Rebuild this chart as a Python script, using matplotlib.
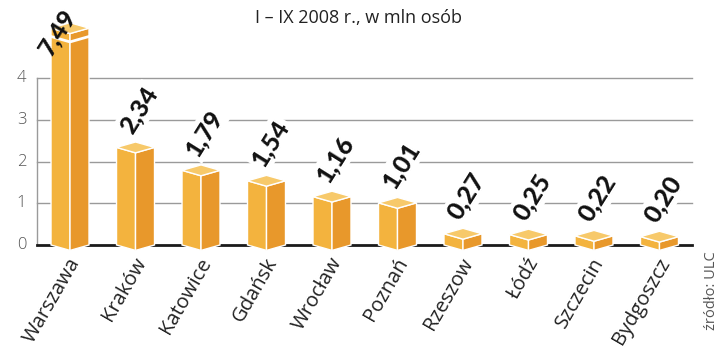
import numpy as np
import matplotlib.pyplot as plt
from matplotlib.patches import Polygon

plt.rcParams['font.family'] = ['Open Sans', 'DejaVu Sans']

cities = ['Warszawa', 'Kraków', 'Katowice', 'Gdańsk', 'Wrocław',
          'Poznań', 'Rzeszow', 'Łódź', 'Szczecin', 'Bydgoszcz']
values = [7.49, 2.34, 1.79, 1.54, 1.16, 1.01, 0.27, 0.25, 0.22, 0.20]
labels = ['7,49', '2,34', '1,79', '1,54', '1,16', '1,01', '0,27', '0,25', '0,22', '0,20']
yticks = [0, 1, 2, 3, 4]

cap = 5.2      # Warszawa bar is cut off here
brk = 5.0
w = 0.29       # half width of the prism
d = 0.13       # depth offset

c_front = '#F3B33E'
c_side = '#E8982B'
c_top = '#F7C96A'

fig = plt.figure(figsize=(7.2, 3.53), dpi=100)
ax = fig.add_axes([0, 0, 1, 1])
ax.set_xlim(-1.069, 9.924)
ax.set_ylim(-2.59, 5.875)
ax.axis('off')

# grid + axis
for t in yticks[1:]:
    ax.plot([-0.5, 9.5], [t, t], color='#9a9a9a', lw=1, zorder=1)
ax.plot([-0.5, -0.5], [0, 4], color='#9a9a9a', lw=1, zorder=1)
ax.plot([-0.5, 9.5], [0, 0], color='#1a1a1a', lw=2, zorder=2)
for t in yticks:
    ax.text(-0.74, t, str(t), ha='center', va='center', fontsize=12,
            color='#555555', fontweight='light')

vfont = dict(family=['Lato', 'DejaVu Sans'], fontsize=18, fontweight=900,
             color='#111111')

for i, v in enumerate(values):
    h = min(v, cap)
    front = Polygon([(i - w, 0), (i, -d), (i, h - d), (i - w, h)],
                    closed=True, fc=c_front, ec='white', lw=1, zorder=3)
    side = Polygon([(i, -d), (i + w, 0), (i + w, h), (i, h - d)],
                   closed=True, fc=c_side, ec='white', lw=1, zorder=3)
    top = Polygon([(i - w, h), (i, h - d), (i + w, h), (i, h + d)],
                  closed=True, fc=c_top, ec='white', lw=1, zorder=3)
    for p in (front, side, top):
        ax.add_patch(p)
    if v > cap:
        ax.plot([i - w, i, i + w], [brk, brk - d, brk], color='white', lw=2, zorder=4)
        ax.text(i - 0.3, 4.5, labels[i], rotation=58, rotation_mode='anchor',
                ha='left', va='baseline', zorder=5, **vfont)
    else:
        ax.text(i - 0.05, h + 0.3, labels[i], rotation=58, rotation_mode='anchor',
                ha='left', va='baseline', zorder=5,
                bbox=dict(fc='white', ec='none', pad=2), **vfont)
    ax.text(i - 0.04, -0.22, cities[i], rotation=60, rotation_mode='anchor',
            ha='right', va='top', fontsize=14.5, color='#222222')

ax.text(4.4, 5.45, 'I – IX 2008 r., w mln osób', ha='center', va='center',
        fontsize=13, color='#222222')
ax.text(9.8, -1.1, 'źródło: ULC', rotation=90, ha='center', va='center',
        fontsize=10.5, color='#555555')

fig.savefig('out.png', dpi=100)
